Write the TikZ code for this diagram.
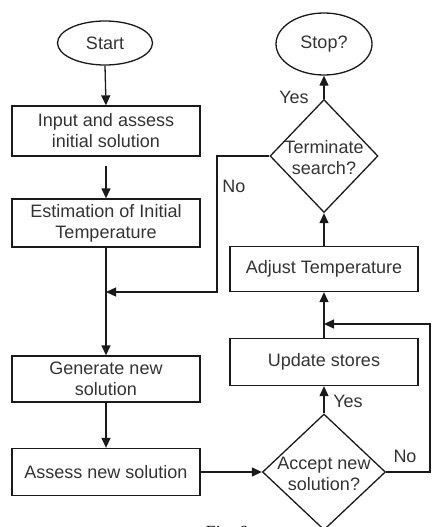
\documentclass[tikz,border=0pt]{standalone}
\usepackage{fontspec}
\setmainfont{Liberation Sans}
\newfontfamily\capfont{Liberation Serif}
\usetikzlibrary{shapes.geometric,arrows.meta}
\definecolor{txt}{HTML}{333333}
\definecolor{ln}{HTML}{1A1A1A}
\tikzset{
  lbl/.style={font=\fontsize{18}{21}\selectfont, text=txt, align=center},
  boxnode/.style={draw=ln, line width=1.3pt, rectangle, minimum width=188pt, inner sep=0pt, lbl},
  ovalnode/.style={draw=ln, line width=1.3pt, ellipse, inner sep=0pt, lbl},
  dianode/.style={draw=ln, line width=1.3pt, diamond, inner sep=0pt},
  arr/.style={draw=ln, line width=1.3pt, -{Triangle[length=10pt,width=9pt]}},
  plain/.style={draw=ln, line width=1.3pt},
}
\begin{document}
\begin{tikzpicture}[x=1pt,y=-1pt]
\useasboundingbox (0,0) rectangle (434,527);
% nodes
\node[ovalnode, minimum width=95pt, minimum height=44pt] (start) at (105,43) {Start};
\node[boxnode, minimum height=50pt] (input) at (106,131) {Input and assess\\initial solution};
\node[boxnode, minimum height=48pt] (est) at (106,223) {Estimation of Initial\\Temperature};
\node[boxnode, minimum height=46pt] (gen) at (106,379) {Generate new\\solution};
\node[boxnode, minimum height=47pt] (assess) at (106,472) {Assess new solution};
\node[dianode, minimum width=123pt, minimum height=116pt] (accept) at (324,472) {};
\node[lbl] (accepttxt) at (324,474) {Accept new\\solution?};
\node[boxnode, minimum height=47pt] (upd) at (324,362) {Update stores};
\node[boxnode, minimum height=45pt] (adj) at (324,269) {Adjust Temperature};
\node[dianode, minimum width=108pt, minimum height=113pt] (term) at (324,156) {};
\node[lbl] (termtxt) at (324,158) {Terminate\\search?};
\node[ovalnode, minimum width=96pt, minimum height=62pt] (stop) at (324,44) {Stop?};
% coordinates
\coordinate (j1) at (106,292);
\coordinate (c1) at (217,156);
\coordinate (j2) at (324,324);
\coordinate (c2) at (430,472);
% connectors
\draw[arr] (start.south) -- (input.north);
\draw[arr, shorten <=9pt] (input.south) -- (est.north);
\draw[arr] (est.south) -- (gen.north);
\draw[arr] (term.west) -- (c1) |- (j1);
\draw[arr] (gen.south) -- (assess.north);
\draw[arr] (assess.east) -- (accept.west);
\draw[arr] (accept.north) -- (upd.south);
\draw[arr] (accept.east) -- (c2) |- (j2);
\draw[arr] (upd.north) -- (adj.south);
\draw[arr] (adj.north) -- (term.south);
\draw[arr] (term.north) -- (stop.south);
% labels
\node[lbl] (yes1) at (294,97) {Yes};
\node[lbl] (no1) at (234,186) {No};
\node[lbl] (yes2) at (348,401) {Yes};
\node[lbl] (no2) at (405,456) {No};
\node[anchor=base west, font=\capfont\itshape\fontsize{17}{20}\selectfont, text=black] (cap) at (201,537) {Fig. 6};
\end{tikzpicture}
\end{document}
